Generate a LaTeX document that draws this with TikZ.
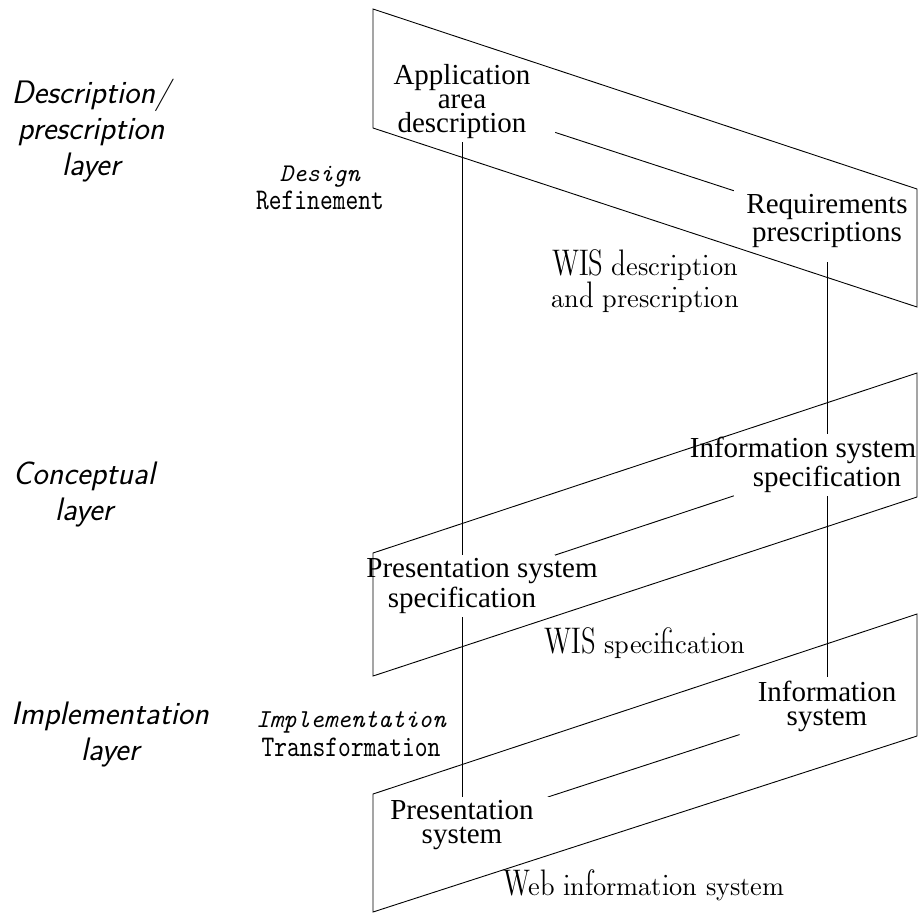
\documentclass[tikz,border=0pt]{standalone}
\usepackage{fontspec}
\setmainfont{Liberation Serif}
\newfontfamily\dunh{lmromandunh10-regular}[Extension=.otf]
\newfontfamily\ttcond{lmmono10-regular}[Extension=.otf, FakeStretch=0.81]
\newcommand\blkfont{\fontsize{29}{24}\selectfont\setlength{\lineskip}{3pt}}
\pgfdeclarelayer{back}
\pgfdeclarelayer{front}
\pgfsetlayers{back,main,front}
\begin{document}
\begin{tikzpicture}[x=1pt,y=-1pt,
  ln/.style={line width=0.9pt},
  blk/.style={fill=white, inner xsep=3pt, inner ysep=3pt, minimum width=186pt, align=center,
    font=\blkfont},
  layerlbl/.style={inner sep=0pt, align=center, font=\sffamily\itshape\fontsize{32.5}{36}\selectfont},
  actlbl/.style={inner sep=0pt, align=center, font=\ttcond\fontsize{30}{28.5}\selectfont},
  wislbl/.style={inner sep=0pt, align=center, font=\dunh\fontsize{26.3}{30}\selectfont}]
\useasboundingbox (0,0) rectangle (918,914);

% main blocks
\node[blk] (app) at (462,102) {Application\\area\\description};
\node[blk, minimum height=82pt] (req) at (827,221) {Requirements\\prescriptions};
\node[blk] (pss) at (462,586) {\makebox[0pt]{\hspace*{40pt}Presentation system}\\specification};
\node[blk] (iss) at (827,465) {\makebox[0pt]{Information system\hspace*{48pt}}\\specification};
\node[blk] (ps) at (462,825) {Presentation\\system};
\node[blk] (is) at (827,706) {Information\\system};

% layer labels
\node[layerlbl] (dl) at (91,131) {Description/\\prescription\\layer};
\node[layerlbl] (cl) at (84,494) {Conceptual\\layer};
\node[layerlbl] (il) at (110,735) {Implementation\\layer};

% activity labels
\node[actlbl] (des) at (320,188) {{\ttfamily\itshape\fontsize{25.4}{28.5}\selectfont Design}\\Refinement};
\node[actlbl] (imp) at (351,734) {{\ttfamily\itshape\fontsize{25.8}{28.5}\selectfont Implementation}\\Transformation};

% WIS labels
\node[wislbl] (wisd) at (645,281) {WIS description\\and prescription};
\node[wislbl, anchor=base] (wiss) at (645,653) {WIS specification};
\node[wislbl, anchor=base] (wis) at (644,895) {Web information system};

\begin{pgfonlayer}{back}
\draw[ln] (app) -- (req);
\draw[ln] (pss) -- (iss);
\draw[ln] (ps) -- (is);
\draw[ln] (app) -- (ps);
\draw[ln] (req) -- (is);
\end{pgfonlayer}

\begin{pgfonlayer}{front}
\draw[ln] (373,9) -- (917,189) -- (917,307) -- (373,128) -- cycle;
\draw[ln] (373,553) -- (917,373) -- (917,497) -- (373,676) -- cycle;
\draw[ln] (373,794) -- (917,614) -- (917,736) -- (373,912) -- cycle;
\end{pgfonlayer}
\end{tikzpicture}
\end{document}
